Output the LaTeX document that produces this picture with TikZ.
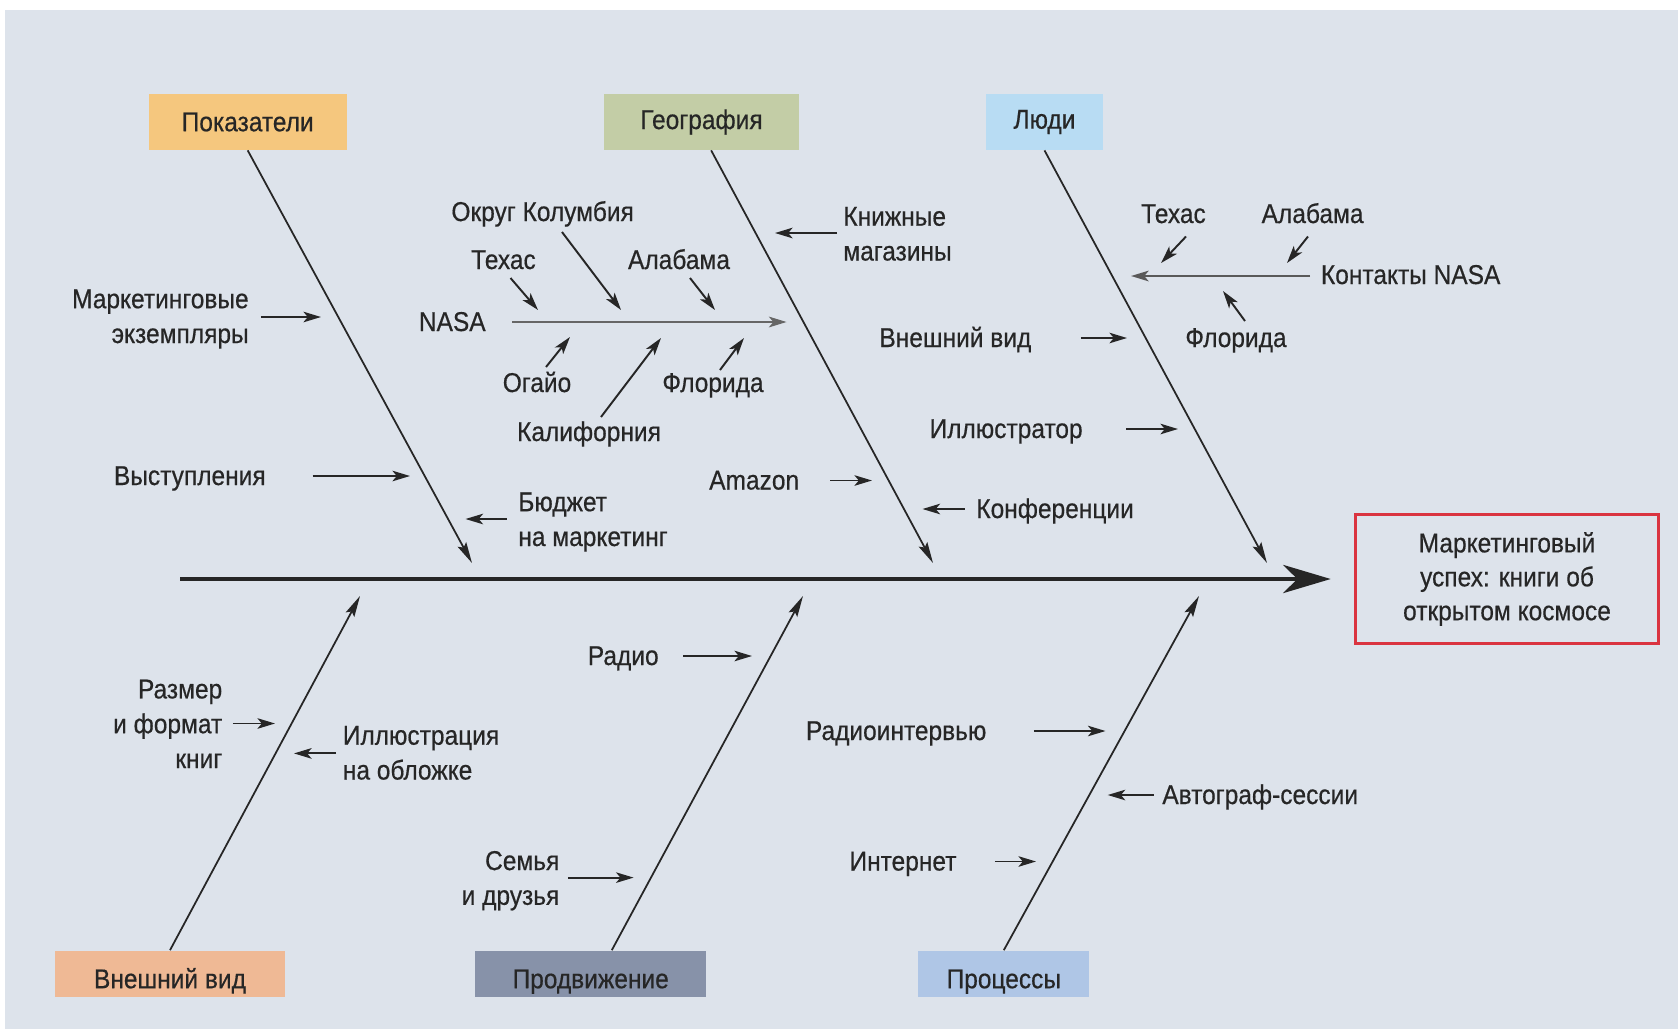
\documentclass[tikz,border=0pt]{standalone}
\usepackage{fontspec}
\setmainfont[FakeStretch=0.9, FakeBold=0.5]{Liberation Sans}
\usetikzlibrary{arrows.meta}
\tikzset{% change default arrow tips
    >={Stealth[length=10pt,width=6pt,inset=2.5pt]}
}
\definecolor{bgcol}{HTML}{DDE3EB}
\definecolor{linecol}{HTML}{262626}
\definecolor{pokcol}{HTML}{F5C77E}
\definecolor{geocol}{HTML}{C3CDA6}
\definecolor{lyudicol}{HTML}{B8DCF3}
\definecolor{vneshcol}{HTML}{EFB995}
\definecolor{prodcol}{HTML}{8792A9}
\definecolor{proccol}{HTML}{AFC6E6}
\definecolor{rescol}{HTML}{DA3440}
\tikzset{
    catbox/.style={inner sep=0pt, text=linecol, font=\fontsize{15.5}{20}\selectfont},
    lowbox/.style={catbox, minimum height=26.7pt, text height=17pt, text depth=0.8pt},
    lbl/.style={inner sep=0pt, text=linecol, font=\fontsize{15.5}{19.8}\selectfont},
    bone/.style={draw=linecol, line width=1pt, -{Stealth[length=12pt,width=5.5pt,inset=2pt]}},
    sub/.style={draw=linecol, line width=1.1pt, ->},
    spine/.style={draw=linecol, line width=2.4pt, -{Stealth[length=27pt,width=16pt,inset=8pt]}}
}

\begin{document}
\begin{tikzpicture}[x=0.02cm,y=-0.02cm]
    % background
    \useasboundingbox (0,0) rectangle (1678,1029);
    \fill[white] (0,0) rectangle (1678,1029);
    \fill[bgcol] (5,10) rectangle (1678,1029);

    % head and spine
    \node[lbl, draw=rescol, line width=1.7pt, align=center, minimum width=172pt, minimum height=73pt,
          font=\fontsize{15.5}{19.3}\selectfont] (res) at (1507,579) {Маркетинговый\\успех: книги об\\открытом космосе};
    \coordinate (tail) at (180,579);
    \draw[spine, shorten >=13.5pt] (tail) -- (res);

    % categories
    \node[catbox, fill=pokcol, minimum width=112.7pt, minimum height=31.9pt] (pok) at (247.7,122) {Показатели};
    \node[catbox, fill=geocol, minimum width=111.5pt, minimum height=31.9pt] (geo) at (701.5,122) {География};
    \node[catbox, fill=lyudicol, minimum width=67pt, minimum height=31.9pt] (lyudi) at (1044.5,122) {Люди};
    \node[lowbox, fill=vneshcol, minimum width=131.4pt] (vnesh) at (170,974) {Внешний вид};
    \node[lowbox, fill=prodcol, minimum width=131.4pt] (prod) at (590.7,974) {Продвижение};
    \node[lowbox, fill=proccol, minimum width=97.3pt] (proc) at (1003.8,974) {Процессы};

    % bones
    \coordinate (pokEnd) at (472,563);
    \coordinate (geoEnd) at (933,563);
    \coordinate (lyudiEnd) at (1267,563);
    \coordinate (vneshEnd) at (360,596);
    \coordinate (prodEnd) at (803,596);
    \coordinate (procEnd) at (1199,596);
    \draw[bone] (pok.south) -- (pokEnd);
    \draw[bone] ([xshift=5.5pt]geo.south) -- (geoEnd);
    \draw[bone] (lyudi.south) -- (lyudiEnd);
    \draw[bone] (vnesh.north) -- (vneshEnd);
    \draw[bone] ([xshift=12pt]prod.north) -- (prodEnd);
    \draw[bone] (proc.north) -- (procEnd);

    % causes: Показатели
    \node[lbl, anchor=base east, align=right] (mkex) at (249,343) {Маркетинговые\\экземпляры};
    \node[lbl, anchor=base east] (vyst) at (266,485) {Выступления};
    \node[lbl, anchor=base west, align=left] (byud) at (518,546) {Бюджет\\на маркетинг};
    \coordinate (mkexTip) at (321,317);
    \coordinate (vystTip) at (410,476);
    \coordinate (byudTip) at (465.5,519);
    \draw[sub, shorten <=6.8pt] (mkex.east |- mkexTip) -- (mkexTip);
    \draw[sub, shorten <=26.5pt] (vyst.east |- vystTip) -- (vystTip);
    \draw[sub, shorten <=6.3pt] (byud.west |- byudTip) -- (byudTip);

    % causes: География
    \node[lbl, anchor=base east] (nasa) at (486,331) {NASA};
    \coordinate (nasaTip) at (786.6,322);
    \draw[draw=black!60, line width=1.6pt, ->, shorten <=15pt] (nasa.east |- nasaTip) -- (nasaTip);
    \node[lbl, anchor=base] (okrug) at (542.6,221) {Округ Колумбия};
    \node[lbl, anchor=base] (tex1) at (503.5,269) {Техас};
    \node[lbl, anchor=base] (alab1) at (679,269) {Алабама};
    \node[lbl, anchor=base] (ogaio) at (537,392) {Огайо};
    \node[lbl, anchor=base] (kalif) at (589,441) {Калифорния};
    \node[lbl, anchor=base] (flor1) at (713,392) {Флорида};
    \coordinate (okrugTip) at (621,310);
    \coordinate (tex1Tip) at (538,310);
    \coordinate (alab1Tip) at (715,310);
    \coordinate (ogaioTip) at (570,337);
    \coordinate (kalifTip) at (661,338);
    \coordinate (flor1Tip) at (744,338);
    \draw[sub] ([shift={(19.4,11)}]okrug.base) -- (okrugTip);
    \draw[sub] ([shift={(7,9)}]tex1.base) -- (tex1Tip);
    \draw[sub] ([shift={(11,9)}]alab1.base) -- (alab1Tip);
    \draw[sub] ([shift={(9,-25)}]ogaio.base) -- (ogaioTip);
    \draw[sub] ([shift={(12,-24)}]kalif.base) -- (kalifTip);
    \draw[sub] ([shift={(7,-22)}]flor1.base) -- (flor1Tip);
    \node[lbl, anchor=base west, align=left] (knizh) at (843,260.5) {Книжные\\магазины};
    \node[lbl, anchor=base east] (amaz) at (799.5,489.5) {Amazon};
    \node[lbl, anchor=base west] (konf) at (976,518) {Конференции};
    \coordinate (knizhTip) at (775,233);
    \coordinate (amazTip) at (872,480.5);
    \coordinate (konfTip) at (922.5,509);
    \draw[sub, shorten <=3.4pt] (knizh.west |- knizhTip) -- (knizhTip);
    \draw[sub, shorten <=17.6pt] (amaz.east |- amazTip) -- (amazTip);
    \draw[sub, shorten <=6.3pt] (konf.west |- konfTip) -- (konfTip);

    % causes: Люди
    \node[lbl, anchor=base east] (vvid) at (1031.7,347) {Внешний вид};
    \node[lbl, anchor=base east] (illus) at (1083,438) {Иллюстратор};
    \node[lbl, anchor=base west] (kont) at (1320.6,284) {Контакты NASA};
    \coordinate (vvidTip) at (1127,338);
    \coordinate (illusTip) at (1178,429);
    \coordinate (kontTip) at (1131,276);
    \draw[sub, shorten <=28pt] (vvid.east |- vvidTip) -- (vvidTip);
    \draw[sub, shorten <=24.5pt] (illus.east |- illusTip) -- (illusTip);
    \draw[draw=black!65, line width=1.5pt, ->, shorten <=6pt] (kont.west |- kontTip) -- (kontTip);
    \node[lbl, anchor=base] (tex2) at (1173.5,223) {Техас};
    \node[lbl, anchor=base] (alab2) at (1312.6,223) {Алабама};
    \node[lbl, anchor=base] (flor2) at (1236,347) {Флорида};
    \coordinate (tex2Tip) at (1161,263);
    \coordinate (alab2Tip) at (1287,263);
    \coordinate (flor2Tip) at (1223,291);
    \draw[sub] ([shift={(12.5,13.5)}]tex2.base) -- (tex2Tip);
    \draw[sub] ([shift={(-4.6,13.5)}]alab2.base) -- (alab2Tip);
    \draw[sub] ([shift={(9,-26)}]flor2.base) -- (flor2Tip);

    % causes: Внешний вид
    \node[lbl, anchor=base east, align=right] (razm) at (222.6,768) {Размер\\и формат\\книг};
    \node[lbl, anchor=base west, align=left] (illob) at (342.5,779.5) {Иллюстрация\\на обложке};
    \coordinate (razmTip) at (275,723.5);
    \coordinate (illobTip) at (294,753.4);
    \draw[sub, shorten <=5.9pt] (razm.east |- razmTip) -- (razmTip);
    \draw[sub, shorten <=3.7pt] (illob.west |- illobTip) -- (illobTip);

    % causes: Продвижение
    \node[lbl, anchor=base east] (radio) at (659,665) {Радио};
    \node[lbl, anchor=base east, align=right] (semya) at (559.7,904.8) {Семья\\и друзья};
    \coordinate (radioTip) at (752,656);
    \coordinate (semyaTip) at (633.6,877.6);
    \draw[sub, shorten <=13.7pt] (radio.east |- radioTip) -- (radioTip);
    \draw[sub, shorten <=4.7pt] (semya.east |- semyaTip) -- (semyaTip);

    % causes: Процессы
    \node[lbl, anchor=base east] (radint) at (986.7,740) {Радиоинтервью};
    \node[lbl, anchor=base west] (avtog) at (1162,804) {Автограф-сессии};
    \node[lbl, anchor=base east] (internet) at (956.8,870.5) {Интернет};
    \coordinate (radintTip) at (1105.5,731);
    \coordinate (avtogTip) at (1107.7,795);
    \coordinate (internetTip) at (1036,861.5);
    \draw[sub, shorten <=26.9pt] (radint.east |- radintTip) -- (radintTip);
    \draw[sub, shorten <=4.7pt] (avtog.west |- avtogTip) -- (avtogTip);
    \draw[sub, shorten <=21.7pt] (internet.east |- internetTip) -- (internetTip);
\end{tikzpicture}
\end{document}
